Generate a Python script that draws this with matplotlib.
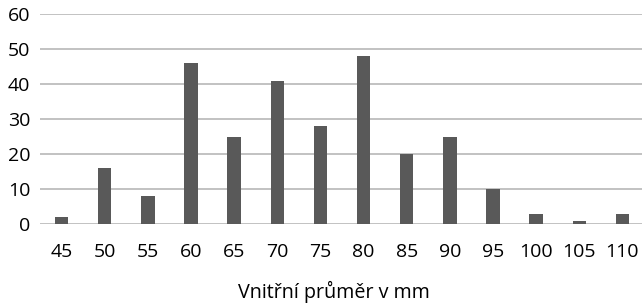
import numpy as np
import matplotlib.pyplot as plt

categories = ["45", "50", "55", "60", "65", "70", "75", "80", "85", "90", "95", "100", "105", "110"]
counts = [2, 16, 8, 46, 25, 41, 28, 48, 20, 25, 10, 3, 1, 3]
yticks = [0, 10, 20, 30, 40, 50, 60]

plt.rcParams['font.family'] = ['Open Sans', 'DejaVu Sans']

fig = plt.figure(figsize=(6.42, 3.06), dpi=100)
ax = fig.add_axes((40/642, 82/306, 604/642, 210/306))

x = np.arange(len(categories))
ax.bar(x, counts, width=0.31, color='#595959', zorder=3)

ax.set_xlim(-0.5, len(categories) - 0.5)
ax.set_ylim(0, 60)
ax.set_yticks(yticks)
ax.set_xticks(x)
ax.set_xticklabels(categories)
ax.yaxis.grid(True, color='#bdbdbd', lw=1.3, zorder=0)
for s in ax.spines.values():
    s.set_visible(False)
ax.tick_params(length=0, labelsize=14, colors='black')
ax.tick_params(axis='x', pad=14)
ax.tick_params(axis='y', pad=7)

# axis title placed by hand, a bit left of the plot centre
fig.text(334/642, 1 - 298/306, "Vnitřní průměr v mm", fontsize=14.2,
         ha='center', va='baseline')

fig.savefig("out.png", dpi=100)
